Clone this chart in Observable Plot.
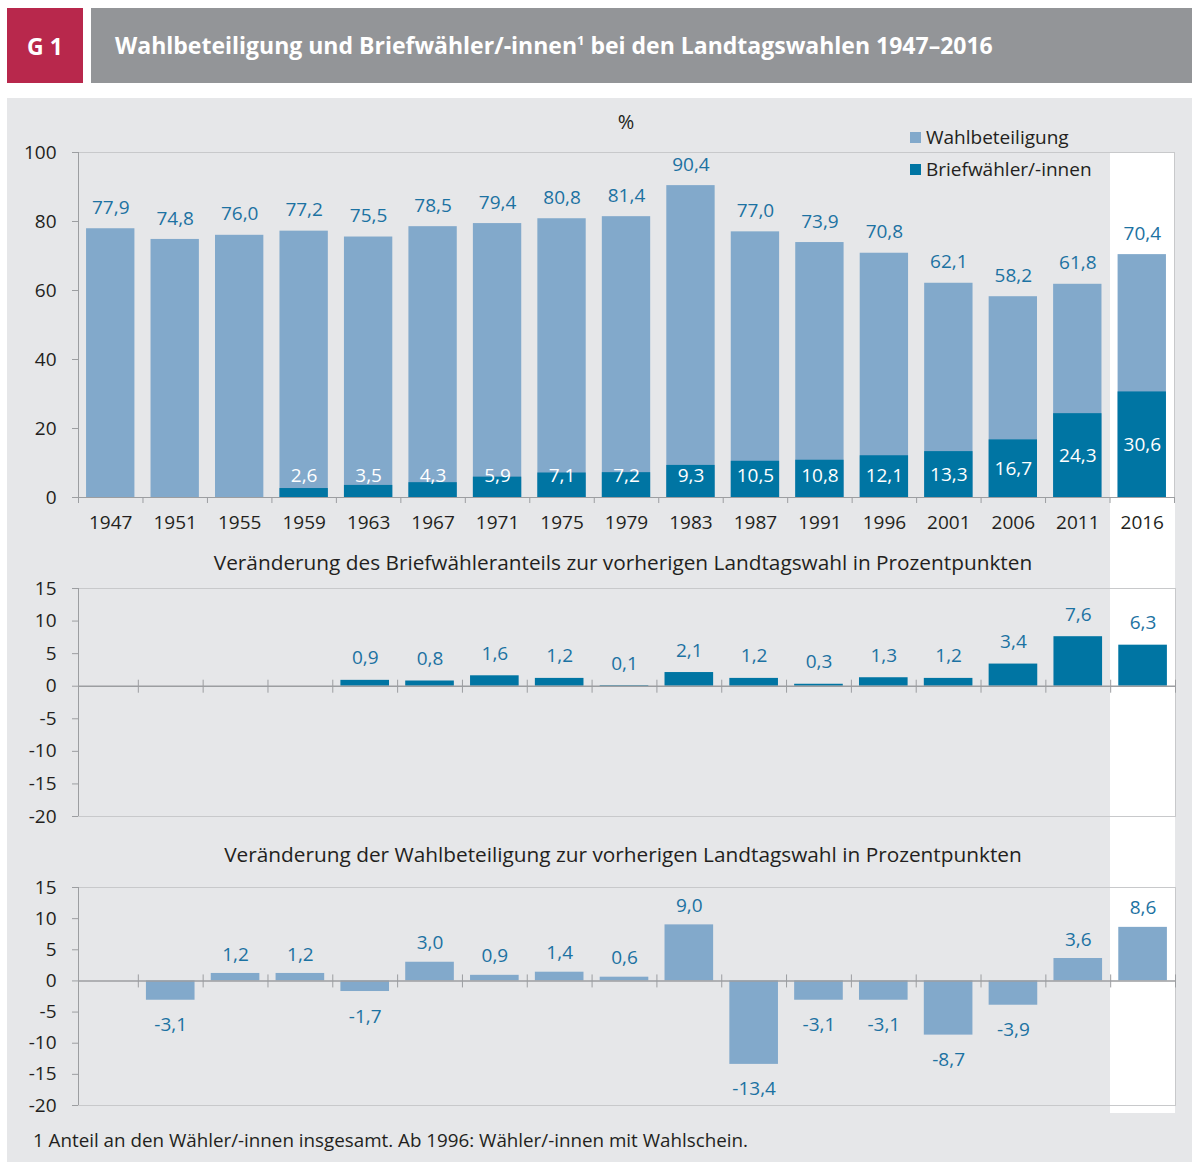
<!DOCTYPE html>
<html><head><meta charset="utf-8">
<script src="https://cdn.jsdelivr.net/npm/d3@7"></script>
<script src="https://cdn.jsdelivr.net/npm/@observablehq/plot@0.6"></script>
<style>
body{margin:0;background:#fff;font-family:"Open Sans",sans-serif;}
#root{position:relative;width:1192px;height:1162px;overflow:hidden;}
.abs{position:absolute;}
svg{background:transparent !important;}
</style></head>
<body><div id="root"></div>
<script>
// ---- data ----
const years = ["1947","1951","1955","1959","1963","1967","1971","1975","1979","1983","1987","1991","1996","2001","2006","2011","2016"];
const turnout = [77.9,74.8,76.0,77.2,75.5,78.5,79.4,80.8,81.4,90.4,77.0,73.9,70.8,62.1,58.2,61.8,70.4];
const postal = [null,null,null,2.6,3.5,4.3,5.9,7.1,7.2,9.3,10.5,10.8,12.1,13.3,16.7,24.3,30.6];
const postalChange = [null,null,null,null,0.9,0.8,1.6,1.2,0.1,2.1,1.2,0.3,1.3,1.2,3.4,7.6,6.3];
const turnoutChange = [null,-3.1,1.2,1.2,-1.7,3.0,0.9,1.4,0.6,9.0,-13.4,-3.1,-3.1,-8.7,-3.9,3.6,8.6];
const ticks1 = [0,20,40,60,80,100];
const ticks2 = [15,10,5,0,-5,-10,-15,-20];

const title = "Wahlbeteiligung und Briefwähler/-innen";
const titleRest = " bei den Landtagswahlen 1947–2016";
const sub2 = "Veränderung des Briefwähleranteils zur vorherigen Landtagswahl in Prozentpunkten";
const sub3 = "Veränderung der Wahlbeteiligung zur vorherigen Landtagswahl in Prozentpunkten";
const footnote = "1 Anteil an den Wähler/-innen insgesamt. Ab 1996: Wähler/-innen mit Wahlschein.";
const legendLabels = ["Wahlbeteiligung","Briefwähler/-innen"];

// ---- style ----
const C_LIGHT = "#82a9cb", C_DARK = "#0075a3", C_LBL = "#1c72a2", C_TXT = "#231f20";
const C_FRAME = "#c8c9cb", C_AXIS = "#9c9ea1";
const FONT = "Open Sans";
const W = 1192;
const ML1 = 78, MR1 = 18;     // top chart
const ML2 = 73, MR2 = 17;     // lower charts (slightly wider category grid)
const AX_OFF2 = 5;            // y-axis of lower charts sits 5px right of grid start
const step1 = (W - ML1 - MR1) / years.length;
const step2 = (W - ML2 - MR2) / years.length;
const fmt = v => v.toFixed(1).replace(".", ",");

const root = document.getElementById("root");
function box(css, html){const d=document.createElement("div");d.className="abs";d.style.cssText=css;if(html!=null)d.innerHTML=html;root.appendChild(d);return d;}

// header & panel
box("left:7px;top:8px;width:76px;height:75px;background:#b8284c;color:#fff;font:700 23px 'Open Sans';display:flex;align-items:center;justify-content:center;","G 1");
box("left:91px;top:8px;width:1101px;height:75px;background:#939598;");
box("left:115px;top:8px;height:75px;color:#fff;font:700 23px 'Open Sans';line-height:75px;white-space:nowrap;", title + "<sup style='font-size:13px;line-height:0;vertical-align:9px'>1</sup>" + titleRest);
box("left:7px;top:98px;width:1185px;height:1064px;background:#e6e7e9;");
const band = box("background:#fff;");

const xScale = {type:"band", domain: years, paddingInner:0.25, paddingOuter:0.125, align:0.5, round:false};
const common = (height, ml, mr, mt, mb) => ({width: W, height, marginLeft: ml, marginRight: mr, marginTop: mt, marginBottom: mb,
  style:{background:"transparent", fontFamily: FONT, color: C_TXT}});

function boundaryTicks(data, step, insetTop, insetBottom){
  return [
    Plot.ruleX(data, {x: d=>d, dx: -step/2, y1: 0, y2: 0, insetTop, insetBottom, stroke: C_AXIS}),
    Plot.ruleX([years[years.length-1]], {x: d=>d, dx: step/2, y1: 0, y2: 0, insetTop, insetBottom, stroke: C_AXIS})
  ];
}

// ---- chart 1 ----
const d1 = years.map((y,i)=>({year:y, turnout:turnout[i], postal:postal[i]}));
const p1 = Plot.plot({
  ...common(443, ML1, MR1, 54, 44),
  x: xScale,
  y: {domain:[0,100], ticks: ticks1},
  marks: [
    Plot.frame({stroke: C_FRAME}),
    Plot.barY(d1, {x:"year", y:"turnout", fill: C_LIGHT}),
    Plot.barY(d1.filter(d=>d.postal!=null), {x:"year", y:"postal", fill: C_DARK}),
    Plot.text(d1, {x:"year", y:"turnout", text: d=>fmt(d.turnout), dy:-21, fill: C_LBL, fontSize:19}),
    Plot.text(d1.filter(d=>d.postal!=null), {x:"year", y: d=>Math.max(d.postal/2, 6.4), text: d=>fmt(d.postal), fill:"#fff", fontSize:19}),
    Plot.ruleY([0], {stroke: C_AXIS}),
    Plot.ruleX([years[0]], {x:d=>d, dx:-step1/2, y1:0, y2:100, stroke: C_AXIS}),
    ...boundaryTicks(years, step1, 0, -6),
    Plot.axisY({ticks: ticks1, tickSize:6, tickPadding:16, fontSize:19, stroke: C_AXIS, fill: C_TXT, tickFormat: d=>String(d), label:null}),
    Plot.axisX({tickSize:0, tickPadding:18, fontSize:19, fill: C_TXT, label:null})
  ]
});
p1.classList.add("abs"); p1.style.left="0px"; p1.style.top="98px"; root.appendChild(p1);

// ---- lower charts ----
function changeChart(data, fill, top, height, mt, mb, dyUp){
  const p = Plot.plot({
    ...common(height, ML2, MR2, mt, mb),
    x: {...xScale, axis:null},
    y: {domain:[-20,15], ticks: ticks2},
    marks: [
      Plot.frame({stroke: C_FRAME, insetLeft: AX_OFF2}),
      Plot.barY(data, {x:"year", y:"v", fill}),
      Plot.text(data.filter(d=>d.v>=0), {x:"year", y:"v", text: d=>fmt(d.v), dy:dyUp, fill: C_LBL, fontSize:19}),
      Plot.text(data.filter(d=>d.v<0), {x:"year", y:"v", text: d=>fmt(d.v), dy:25, fill: C_LBL, fontSize:19}),
      Plot.ruleY([0], {stroke: C_AXIS, strokeWidth:1.5, insetLeft: AX_OFF2}),
      Plot.ruleX([years[0]], {x:d=>d, dx:-step2/2 + AX_OFF2, y1:-20, y2:15, stroke: C_AXIS}),
      ...boundaryTicks(years.slice(1), step2, -6, -7),
      Plot.axisY({ticks: ticks2, tickSize:6, tickPadding:16, dx: AX_OFF2, fontSize:19, stroke: C_AXIS, fill: C_TXT, tickFormat: d=>String(d), label:null})
    ]
  });
  p.classList.add("abs"); p.style.left="0px"; p.style.top=top+"px"; root.appendChild(p);
  return p;
}
const p2 = changeChart(years.map((y,i)=>({year:y, v:postalChange[i]})).filter(d=>d.v!=null), C_DARK, 560, 268, 28, 12, -22);
const p3 = changeChart(years.map((y,i)=>({year:y, v:turnoutChange[i]})).filter(d=>d.v!=null), C_LIGHT, 860, 257, 27, 12, -19);

// ---- white highlight band for 2016, from the x scale ----
const xs = p1.scale("x"), ys1 = p1.scale("y"), ys3 = p3.scale("y");
const bandLeft = xs.apply("2016") - (xs.step - xs.bandwidth)/2;
const bandTop = 98 + ys1.apply(100);
const bandBottom = 860 + ys3.apply(-20) + 8;
band.style.left = bandLeft + "px"; band.style.top = bandTop + "px";
band.style.width = (xs.step + 1) + "px"; band.style.height = (bandBottom - bandTop) + "px";

// ---- texts ----
const T = `color:${C_TXT};font-family:'Open Sans';white-space:nowrap;`;
const mid = ML1 + (W - ML1 - MR1)/2;
box(`left:${mid-50}px;width:100px;top:108px;text-align:center;font-size:20px;${T}`, "%");
legendLabels.forEach((l,i)=>{
  box(`left:910px;top:${132+i*32}px;width:11px;height:11px;background:${i? C_DARK: C_LIGHT};`);
  box(`left:926px;top:${124+i*32}px;font-size:19px;line-height:26px;${T}`, l);
});
box(`left:${mid-3-500}px;width:1000px;top:548px;text-align:center;font-size:20.8px;line-height:28px;${T}`, sub2);
box(`left:${mid-3-500}px;width:1000px;top:840px;text-align:center;font-size:20.8px;line-height:28px;${T}`, sub3);
box(`left:33px;top:1127px;font-size:18.8px;line-height:26px;${T}`, footnote);
</script></body></html>
